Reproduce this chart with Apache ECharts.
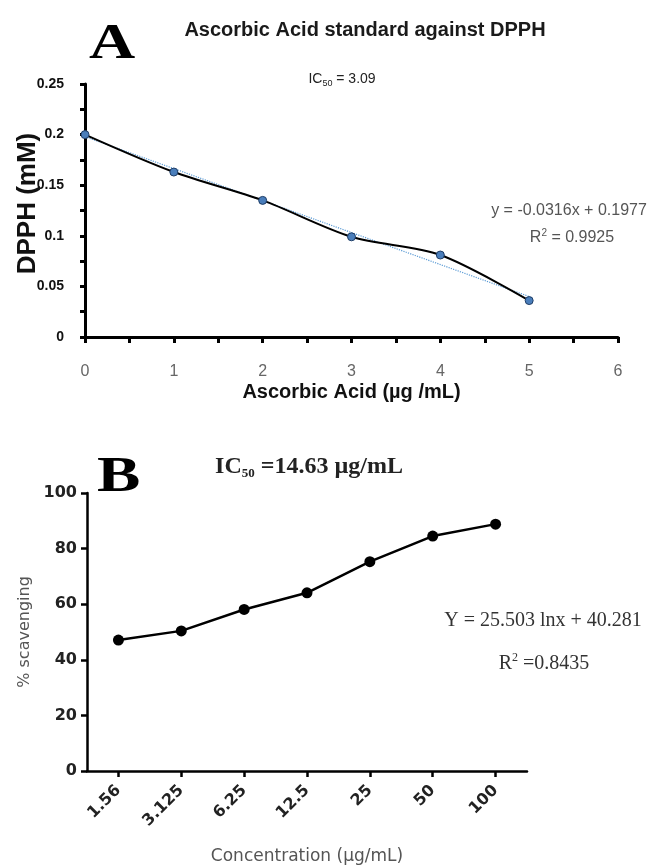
<!DOCTYPE html>
<html>
<head>
<meta charset="utf-8">
<script src="https://cdn.jsdelivr.net/npm/echarts@6/dist/echarts.min.js"></script>
<style>
  html, body { margin: 0; padding: 0; background: #fff; }
  #main { width: 647px; height: 865px; }
</style>
</head>
<body>
<div id="main"></div>
<script>
// panel A: ascorbic acid standard
const ascX = [0, 1, 2, 3, 4, 5];
const dpphY = [0.200, 0.163, 0.135, 0.099, 0.081, 0.036];
const trendX = [0, 5];
const trendY = [0.198, 0.040];
const aTicks = [0, 0.05, 0.1, 0.15, 0.2, 0.25];

// panel B: scavenging
const concLabels = ['1.56', '3.125', '6.25', '12.5', '25', '50', '100'];
const scavenging = [47.1, 50.4, 58.1, 64.1, 75.3, 84.5, 88.8];

const sans = '"Liberation Sans", Arial, sans-serif';
const serif = '"Liberation Serif", "DejaVu Serif", serif';
const dejavu = '"DejaVu Sans", sans-serif';

const myChart = echarts.init(document.getElementById('main'));

let option = {
  backgroundColor: '#fff',
  animation: false,
  title: [
    {
      text: 'Ascorbic Acid standard against DPPH',
      left: 360, top: 15, textAlign: 'center',
      textStyle: { fontFamily: sans, fontSize: 20, fontWeight: 'bold', color: '#1a1a1a' }
    },
    {
      text: '{a|IC}{s|50}{a| = 3.09}',
      left: 337, top: 66, textAlign: 'center',
      textStyle: {
        rich: {
          a: { fontFamily: sans, fontSize: 14, fontWeight: 'normal', color: '#222', lineHeight: 17 },
          s: { fontFamily: sans, fontSize: 9, fontWeight: 'normal', color: '#222', lineHeight: 9, verticalAlign: 'bottom' }
        }
      }
    },
    {
      text: 'y = -0.0316x + 0.1977',
      left: 564, top: 198, textAlign: 'center',
      textStyle: { fontFamily: sans, fontSize: 16, fontWeight: 'normal', color: '#555' }
    },
    {
      text: '{a|R}{p|2}{a| = 0.9925}',
      left: 567, top: 223, textAlign: 'center',
      textStyle: {
        rich: {
          a: { fontFamily: sans, fontSize: 16, fontWeight: 'normal', color: '#555', lineHeight: 20 },
          p: { fontFamily: sans, fontSize: 10, fontWeight: 'normal', color: '#555', lineHeight: 10, verticalAlign: 'top' }
        }
      }
    },
    {
      text: '{a|IC}{s|50}{a| =14.63 µg/mL}',
      left: 304, top: 448, textAlign: 'center',
      textStyle: {
        rich: {
          a: { fontFamily: serif, fontSize: 24, fontWeight: 'bold', color: '#222', lineHeight: 27 },
          s: { fontFamily: serif, fontSize: 13, fontWeight: 'bold', color: '#222', lineHeight: 16, verticalAlign: 'bottom' }
        }
      }
    },
    {
      text: 'Y = 25.503 lnx + 40.281',
      left: 538, top: 606, textAlign: 'center',
      textStyle: { fontFamily: serif, fontSize: 20, fontWeight: 'normal', color: '#333' }
    },
    {
      text: '{a|R}{p|2}{a| =0.8435}',
      left: 539, top: 647, textAlign: 'center',
      textStyle: {
        rich: {
          a: { fontFamily: serif, fontSize: 20, fontWeight: 'normal', color: '#333', lineHeight: 24 },
          p: { fontFamily: serif, fontSize: 12, fontWeight: 'normal', color: '#333', lineHeight: 12, verticalAlign: 'top' }
        }
      }
    }
  ],
  graphic: [
    {
      type: 'text', x: 89, y: 20, scaleX: 1.28,
      style: { text: 'A', font: 'bold 50px "Liberation Serif", serif', fill: '#000', align: 'left', verticalAlign: 'top' }
    },
    {
      type: 'text', x: 97, y: 453, scaleX: 1.3,
      style: { text: 'B', font: 'bold 50px "Liberation Serif", serif', fill: '#000', align: 'left', verticalAlign: 'top' }
    }
  ],
  grid: [
    { left: 85, top: 84, width: 533, height: 253, outerBoundsMode: 'none' },
    { left: 87, top: 493, width: 440, height: 278, outerBoundsMode: 'none' }
  ],
  xAxis: [
    {
      gridIndex: 0,
      type: 'value',
      min: 0, max: 6, interval: 1,
      name: 'Ascorbic Acid (µg /mL)',
      nameLocation: 'middle',
      nameGap: 45,
      nameTextStyle: { fontFamily: sans, fontSize: 20, fontWeight: 'bold', color: '#111' },
      axisLine: { lineStyle: { color: '#000', width: 3 } },
      axisTick: { show: true, length: 6, lineStyle: { color: '#000', width: 3 } },
      minorTick: { show: true, splitNumber: 2, length: 6, lineStyle: { color: '#000', width: 3 } },
      axisLabel: { fontFamily: sans, fontSize: 16, color: '#666', margin: 27 },
      splitLine: { show: false }
    },
    {
      gridIndex: 1,
      type: 'category',
      data: concLabels,
      boundaryGap: true,
      name: 'Concentration (µg/mL)',
      nameLocation: 'middle',
      nameGap: 77,
      nameMoveOverlap: false,
      nameTextStyle: { fontFamily: dejavu, fontSize: 17, color: '#555' },
      axisLine: { lineStyle: { color: '#000', width: 2.5 } },
      axisTick: { show: true, alignWithLabel: true, length: 6, lineStyle: { color: '#000', width: 2.5 } },
      axisLabel: { fontFamily: dejavu, fontSize: 16, fontWeight: 'bold', color: '#222', rotate: 45, margin: 17 },
      splitLine: { show: false }
    }
  ],
  yAxis: [
    {
      gridIndex: 0,
      type: 'value',
      min: 0, max: 0.25, interval: 0.05,
      name: 'DPPH (mM)',
      nameLocation: 'middle',
      nameGap: 44,
      nameMoveOverlap: false,
      nameTextStyle: { fontFamily: sans, fontSize: 26, fontWeight: 'bold', color: '#111', padding: [0, 0, 0, 14] },
      axisLine: { show: true, lineStyle: { color: '#000', width: 3 } },
      axisTick: { show: true, length: 5, lineStyle: { color: '#000', width: 3 } },
      minorTick: { show: true, splitNumber: 2, length: 5, lineStyle: { color: '#000', width: 3 } },
      axisLabel: {
        fontFamily: sans, fontSize: 14, fontWeight: 'bold', color: '#111', margin: 21,
        formatter: v => aTicks.includes(+v.toFixed(2)) ? String(+v.toFixed(2)) : ''
      },
      splitLine: { show: false }
    },
    {
      gridIndex: 1,
      type: 'value',
      min: 0, max: 100, interval: 20,
      name: '% scavenging',
      nameLocation: 'middle',
      nameGap: 54,
      nameTextStyle: { fontFamily: dejavu, fontSize: 16, color: '#555' },
      axisLine: { show: true, lineStyle: { color: '#000', width: 2.5 } },
      axisTick: { show: true, length: 6, lineStyle: { color: '#000', width: 2.5 } },
      axisLabel: { fontFamily: dejavu, fontSize: 16, fontWeight: 'bold', color: '#222', margin: 10 },
      splitLine: { show: false }
    }
  ],
  series: [
    {
      name: 'trend',
      type: 'line',
      xAxisIndex: 0, yAxisIndex: 0,
      data: trendX.map((x, i) => [x, trendY[i]]),
      showSymbol: false,
      lineStyle: { color: '#5b9bd5', width: 1.2, type: 'dotted' },
      z: 1
    },
    {
      name: 'DPPH',
      type: 'line',
      xAxisIndex: 0, yAxisIndex: 0,
      data: ascX.map((x, i) => [x, dpphY[i]]),
      smooth: 0.3,
      symbol: 'circle',
      symbolSize: 8,
      lineStyle: { color: '#000', width: 2 },
      itemStyle: { color: '#4a7ebb', borderColor: '#1f3d66', borderWidth: 1 },
      z: 3
    },
    {
      name: 'Scavenging',
      type: 'line',
      xAxisIndex: 1, yAxisIndex: 1,
      data: scavenging,
      symbol: 'circle',
      symbolSize: 11,
      lineStyle: { color: '#000', width: 2.5 },
      itemStyle: { color: '#000' }
    }
  ]
};

option && myChart.setOption(option);
</script>
</body>
</html>
